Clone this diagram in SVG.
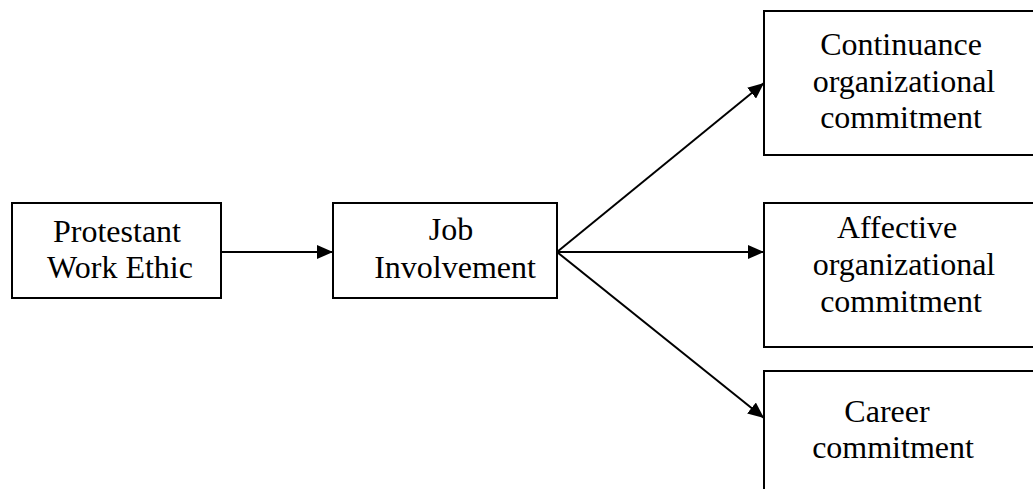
<svg xmlns="http://www.w3.org/2000/svg" width="1033" height="489" viewBox="0 0 1033 489">
<style>
.box{fill:#fff;stroke:#000;stroke-width:2}
.t{font-family:"Liberation Serif","Times New Roman",serif;font-size:32px;fill:#000;text-anchor:middle}
.c{stroke:#000;stroke-width:2;fill:none;marker-end:url(#ah)}
</style>
<defs>
<marker id="ah" viewBox="0 0 16 14" refX="16" refY="7" markerWidth="16" markerHeight="14" markerUnits="userSpaceOnUse" orient="auto">
<path d="M0,0 L16,7 L0,14 Z" fill="#000"/>
</marker>
</defs>
<rect width="1033" height="489" fill="#fff"/>
<g id="connectors">
<line class="c" x1="221" y1="252" x2="333" y2="252"/>
<line class="c" x1="557" y1="252" x2="764" y2="83"/>
<line class="c" x1="557" y1="252" x2="764" y2="252"/>
<line class="c" x1="557" y1="252" x2="764" y2="418"/>
</g>
<g id="n-pwe">
<rect class="box" x="12" y="203" width="209" height="95"/>
<text class="t" x="117" y="242">Protestant</text>
<text class="t" x="120" y="278">Work Ethic</text>
</g>
<g id="n-ji">
<rect class="box" x="333" y="203" width="224" height="95"/>
<text class="t" x="451" y="240">Job</text>
<text class="t" x="455" y="278">Involvement</text>
</g>
<g id="n-coc">
<rect class="box" x="764" y="11" width="280" height="144"/>
<text class="t" x="901" y="55">Continuance</text>
<text class="t" x="904" y="92">organizational</text>
<text class="t" x="901" y="128">commitment</text>
</g>
<g id="n-aoc">
<rect class="box" x="764" y="203" width="280" height="144"/>
<text class="t" x="897" y="238">Affective</text>
<text class="t" x="904" y="275">organizational</text>
<text class="t" x="901" y="312">commitment</text>
</g>
<g id="n-cc">
<rect class="box" x="764" y="371" width="280" height="130"/>
<text class="t" x="887" y="422">Career</text>
<text class="t" x="893" y="458">commitment</text>
</g>
</svg>
